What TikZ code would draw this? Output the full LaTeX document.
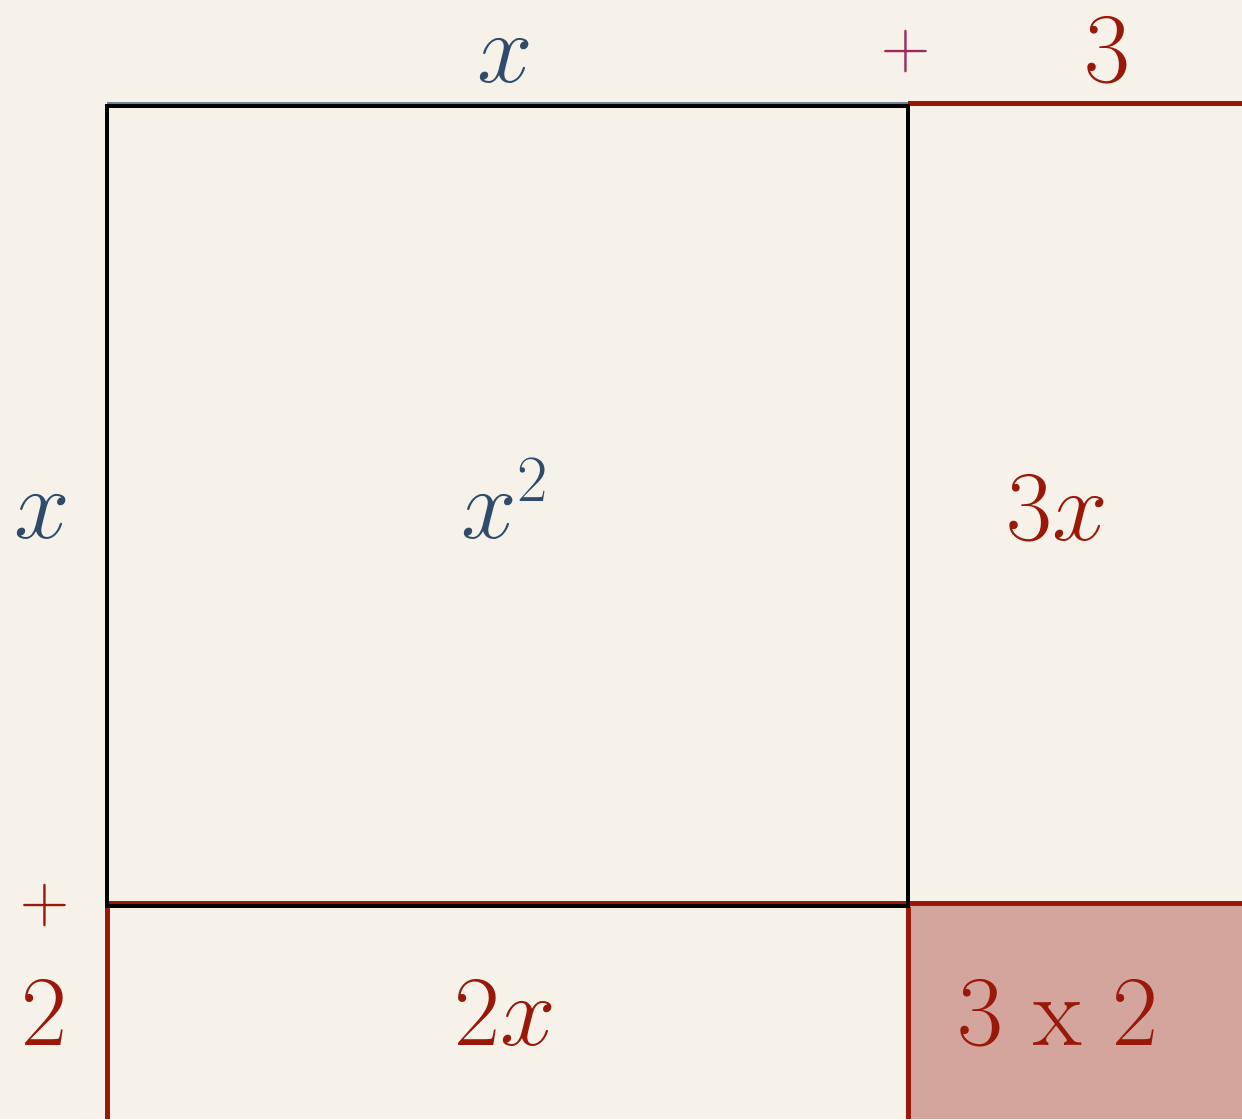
\RequirePackage{fix-cm}
\documentclass[tikz,border=0pt]{standalone}
\DeclareMathSizes{100}{100}{66}{50}
\DeclareMathSizes{68}{68}{48}{34}
\definecolor{bg}{HTML}{F6F2EA}
\definecolor{bluex}{HTML}{2F4B6B}
\definecolor{redx}{HTML}{9A1808}
\definecolor{magx}{HTML}{9C2A5E}
\definecolor{pinkfill}{HTML}{D3A59C}
\tikzset{
  lbl/.style={anchor=base, inner sep=0pt, font=\fontsize{100}{100}\selectfont},
  pl/.style={inner sep=0pt, font=\fontsize{68}{68}\selectfont},
  blk/.style={draw=black, line width=4.5pt},
  rd/.style={draw=redx, line width=5pt}
}
\begin{document}
\begin{tikzpicture}[x=1pt,y=-1pt]
\fill[bg] (0,0) rectangle (1242,1119);
\useasboundingbox (0,0) rectangle (1242,1119);
% product region fill
\fill[pinkfill] (908,905) rectangle (1242,1119);
% red extension lines
\draw[rd] (908,103) -- (1242,103);
\draw[rd] (107,903) -- (1242,903);
\draw[rd] (107,907) -- (107,1119);
\draw[rd] (908,907) -- (908,1119);
% blue hint above top edge
\draw[draw=bluex!70, line width=3pt] (107,103) -- (908,103);
% main square
\draw[blk] (107,106) rectangle (908,906);
% labels
\node[lbl, text=bluex] (tx) at (505,82) {$x$};
\node[pl, text=magx] (tp) at (906,52) {$+$};
\node[lbl, text=redx] (t3) at (1107,82) {3};
\node[lbl, text=bluex] (lx) at (42,538) {$x$};
\node[lbl, text=bluex] (sq) at (505,538) {$x^2$};
\node[lbl, text=redx] (r3x) at (1057,540) {$3x$};
\node[pl, text=redx] (lp) at (45,905) {$+$};
\node[lbl, text=redx] (l2) at (44,1045) {2};
\node[lbl, text=redx] (b2x) at (505,1045) {$2x$};
\node[lbl, text=redx] (p32) at (1058,1045) {3 x 2};
\end{tikzpicture}
\end{document}
